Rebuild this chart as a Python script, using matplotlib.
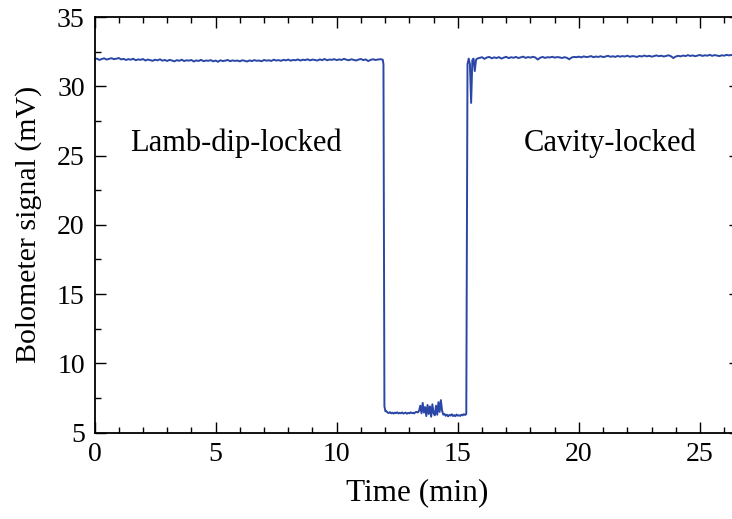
import numpy as np
import matplotlib.pyplot as plt
from matplotlib.ticker import MultipleLocator

plt.rcParams['font.family'] = ['Liberation Serif', 'DejaVu Serif']
plt.rcParams['mathtext.fontset'] = 'stix'

# Lamb-dip-locked plateau, 0.0 .. 11.9 min every 0.1 min (mV)
T_LAMB = (0.0, 11.9)
V_LAMB = [31.95, 32.00, 31.90, 31.97, 32.02, 31.93, 31.98, 32.03, 31.96, 31.99,
          32.04, 31.94, 31.98, 31.90, 31.96, 31.92, 31.99, 31.88, 31.94, 31.91,
          31.97, 31.86, 31.93, 31.89, 31.84, 31.92, 31.87, 31.95, 31.85, 31.90,
          31.83, 31.91, 31.86, 31.80, 31.89, 31.84, 31.92, 31.82, 31.88, 31.85,
          31.90, 31.79, 31.87, 31.83, 31.91, 31.81, 31.86, 31.84, 31.89, 31.80,
          31.86, 31.77, 31.88, 31.82, 31.85, 31.90, 31.81, 31.87, 31.83, 31.86,
          31.80, 31.88, 31.84, 31.79, 31.87, 31.82, 31.89, 31.84, 31.86, 31.81,
          31.90, 31.85, 31.88, 31.83, 31.92, 31.86, 31.89, 31.84, 31.91, 31.87,
          31.93, 31.85, 31.90, 31.88, 31.94, 31.86, 31.92, 31.89, 31.95, 31.87,
          31.93, 31.90, 31.86, 31.94, 31.89, 31.97, 31.88, 31.93, 31.91, 31.96,
          31.89, 31.94, 31.90, 31.98, 31.92, 31.88, 31.95, 31.91, 31.86, 31.93,
          31.97, 31.89, 31.94, 31.82, 31.91, 31.95, 31.90, 31.93, 31.96, 31.92]

# drop when the lock is released
T_DROP = [11.93, 11.97, 12.01]
V_DROP = [31.6, 6.9, 6.55]

# unlocked, 12.05 .. 15.35 min every 0.05 min
T_LOW = (12.05, 15.35)
V_LOW = [6.55, 6.45, 6.42, 6.48, 6.40, 6.44, 6.38, 6.45, 6.41, 6.47,
         6.39, 6.43, 6.40, 6.46, 6.38, 6.42, 6.45, 6.37, 6.43, 6.40,
         6.47, 6.41, 6.44, 6.39, 6.48, 6.50, 6.46, 6.58,
         6.95, 6.40, 7.15, 6.45, 6.85, 6.20, 7.00, 6.35, 6.90, 6.15,
         7.05, 6.40, 6.25, 6.95, 6.30, 7.20, 6.50, 7.35, 6.60, 6.30,
         6.35, 6.22, 6.30, 6.18, 6.28, 6.24, 6.33, 6.20, 6.27, 6.19,
         6.31, 6.23, 6.26, 6.21, 6.30, 6.25, 6.34, 6.28, 6.35]

# relock with a short glitch
T_RISE = [15.40, 15.45, 15.50, 15.55, 15.60, 15.65, 15.70, 15.75, 15.80]
V_RISE = [31.6, 32.0, 31.6, 28.8, 31.9, 32.0, 31.1, 31.9, 32.0]

# cavity-locked plateau, 15.9 .. 26.4 min every 0.1 min
T_CAV = (15.9, 26.4)
V_CAV = [32.05, 32.10, 31.98, 32.08, 32.12, 32.02, 32.09, 32.04, 32.11, 32.00,
         32.07, 32.13, 32.03, 32.10, 32.06, 32.12, 32.04, 32.09, 32.14, 32.05,
         32.11, 32.07, 32.13, 32.08, 31.93, 32.06, 32.12, 32.05, 32.10, 32.08,
         32.13, 32.07, 32.11, 32.09, 32.04, 32.10, 32.06, 31.95, 32.08, 32.12,
         32.10, 32.14, 32.09, 32.16, 32.11, 32.13, 32.18, 32.10, 32.15, 32.12,
         32.17, 32.11, 32.15, 32.20, 32.13, 32.17, 32.12, 32.19, 32.14, 32.18,
         32.15, 32.21, 32.13, 32.18, 32.16, 32.12, 32.19, 32.15, 32.22, 32.16,
         32.20, 32.14, 32.18, 32.23, 32.17, 32.21, 32.15, 32.19, 32.24, 32.17,
         32.04, 32.15, 32.20, 32.16, 32.22, 32.18, 32.25, 32.19, 32.23, 32.17,
         32.22, 32.26, 32.19, 32.24, 32.21, 32.27, 32.20, 32.25, 32.22, 32.18,
         32.24, 32.21, 32.27, 32.23, 32.26, 32.22]

def seg(rng, vals):
    return np.linspace(rng[0], rng[1], len(vals)), np.array(vals)

t1, v1 = seg(T_LAMB, V_LAMB)
t3, v3 = seg(T_LOW, V_LOW)
t5, v5 = seg(T_CAV, V_CAV)
t = np.concatenate([t1, T_DROP, t3, T_RISE, t5])
v = np.concatenate([v1, V_DROP, v3, V_RISE, v5])

fig = plt.figure(figsize=(7.32, 5.19), dpi=100)
ax = fig.add_axes([0.1291, 0.1663, 0.8818, 0.8009])
ax.plot(t, v, color='#2a46a6', lw=1.4)

ax.set_xlim(0, 26.65)
ax.set_ylim(5, 35)
ax.xaxis.set_major_locator(MultipleLocator(5))
ax.xaxis.set_minor_locator(MultipleLocator(1))
ax.yaxis.set_major_locator(MultipleLocator(5))
ax.yaxis.set_minor_locator(MultipleLocator(2.5))
ax.tick_params(which='both', direction='in', top=True, right=True,
               width=1.0, labelsize=20, pad=7)
ax.tick_params(which='major', length=8)
ax.tick_params(which='minor', length=4)
for s in ax.spines.values():
    s.set_linewidth(1.3)

ax.set_xlabel("Time (min)", fontsize=22.5, labelpad=8)
ax.set_ylabel("Bolometer signal (mV)", fontsize=21.5, labelpad=11)

ax.text(1.47, 25.9, "Lamb-dip-locked", fontsize=22, va='center', ha='left')
ax.text(17.73, 25.9, "Cavity-locked", fontsize=22, va='center', ha='left')

fig.savefig("out.png", dpi=100)
